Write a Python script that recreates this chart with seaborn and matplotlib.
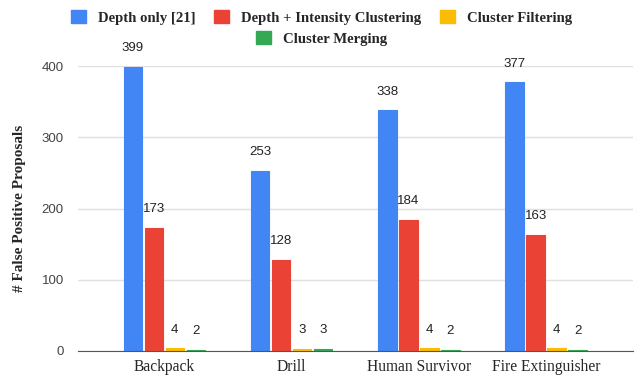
import pandas as pd
import numpy as np
import seaborn as sns
import matplotlib.pyplot as plt
from matplotlib.patches import Patch

## Data
objects = ['Backpack', 'Drill', 'Human Survivor', 'Fire Extinguisher']
methods = ['Depth only [21]', 'Depth + Intensity Clustering', 'Cluster Filtering', 'Cluster Merging']
depth_only = [399, 253, 338, 377]
depth_intensity = [173, 128, 184, 163]
cluster_filtering = [4, 3, 4, 4]
cluster_merging = [2, 3, 2, 2]
colors = ['#4285F4', '#EA4335', '#FBBC04', '#34A853']

df = pd.DataFrame({
    'object': objects * 4,
    'method': np.repeat(methods, 4),
    'count': depth_only + depth_intensity + cluster_filtering + cluster_merging,
})

sns.set_style('white')
serif = ['Liberation Serif', 'DejaVu Serif']
sans = ['Liberation Sans', 'DejaVu Sans']

fig = plt.figure(figsize=(6.43, 3.84), dpi=100)
ax = fig.add_axes([0.121, 0.086, 0.863, 0.742])

sns.barplot(data=df, x='object', y='count', hue='method', palette=colors, saturation=1,
            width=0.66, gap=0.12, ax=ax, legend=False, zorder=3)

## Labels above bars, thin edge so tiny bars still show
for cont, c in zip(ax.containers, colors):
    for bar in cont:
        bar.set_edgecolor(c)
        bar.set_linewidth(0.8)
    ax.bar_label(cont, padding=9, fontsize=9.5, color='#222222', family=sans, clip_on=False)

ax.set_ylim(0, 400)
ax.set_xlim(-0.68, 3.68)
ax.set_yticks([0, 100, 200, 300, 400])
ax.yaxis.grid(True, color='#e0e0e0', linewidth=1)
ax.set_axisbelow(True)
for s in ['top', 'right', 'left']:
    ax.spines[s].set_visible(False)
ax.spines['bottom'].set_color('#555555')
ax.spines['bottom'].set_zorder(4)
ax.tick_params(axis='y', length=0, labelsize=9.5, labelcolor='#444444', pad=10)
ax.tick_params(axis='x', length=0, labelsize=11.2, pad=6)
for t in ax.get_yticklabels():
    t.set_family(sans)
for t in ax.get_xticklabels():
    t.set_family(serif)
ax.set_xlabel('')
ax.set_ylabel('# False Positive Proposals', family=serif, fontweight='bold', fontsize=11, labelpad=11)

## Legend, two rows
handles = [Patch(color=c) for c in colors]
fig.legend(handles[:3], methods[:3], loc='center', bbox_to_anchor=(0.5, 0.955), ncol=3,
           frameon=False, prop={'family': serif, 'weight': 'bold', 'size': 10.6},
           handlelength=1.0, handleheight=1.0, handletextpad=0.8, columnspacing=1.3)
fig.legend(handles[3:], methods[3:], loc='center', bbox_to_anchor=(0.5, 0.9), ncol=1,
           frameon=False, prop={'family': serif, 'weight': 'bold', 'size': 10.6},
           handlelength=1.0, handleheight=1.0, handletextpad=0.8)

plt.savefig('out.png', dpi=100)
